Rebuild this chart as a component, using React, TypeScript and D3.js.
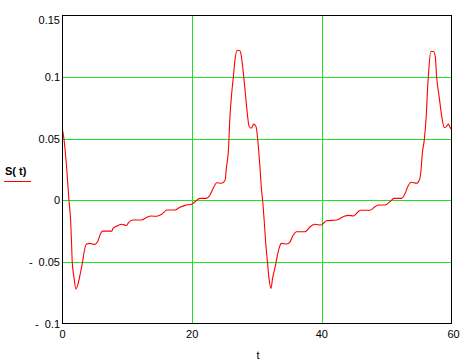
import React, { useEffect, useRef } from "react";
import * as d3 from "d3";

const tValues = [
  0, 0.22, 0.63, 1.0, 1.25, 1.4, 1.5, 1.76, 2.07, 2.42, 2.8, 3.1, 3.3, 3.7, 4.2, 5.0, 5.4, 5.9, 6.2, 7.6,
  7.8, 8.6, 9.1, 9.9, 10.1, 10.8, 12.2, 13.0, 13.75, 14.5, 15.3, 16.1, 17.35, 18.1, 18.9, 20.0, 20.4, 21.2,
  22.2, 22.75, 23.25, 23.8, 24.55, 25.06, 25.3, 25.6, 25.8, 26.1, 26.35, 26.6, 26.96, 27.3, 27.5, 27.9,
  28.15, 28.5, 28.76, 29.1, 29.5, 29.85, 30.1, 30.45, 30.7, 30.87, 31.1, 31.35, 31.6, 31.85, 32.16, 32.4,
  32.8, 33.1, 33.4, 33.8, 34.6, 35.1, 35.6, 36.1, 37.4, 38.2, 38.9, 39.9, 40.7, 42.3, 43.3, 44.1, 44.9,
  45.6, 46.0, 47.4, 48.2, 48.7, 49.8, 50.5, 51.15, 52.3, 52.85, 53.25, 53.8, 54.6, 55.05, 55.3, 55.5, 55.8,
  56.1, 56.3, 56.5, 56.8, 57.2, 57.5, 57.7, 58.1, 58.5, 58.9, 59.2, 59.5, 59.8, 60,
];
const sValues = [
  0.057, 0.05, 0.027, 0.0, -0.016, -0.035, -0.05, -0.062, -0.072, -0.0675, -0.058, -0.05, -0.043, -0.0355,
  -0.035, -0.0358, -0.0337, -0.0268, -0.025, -0.025, -0.0228, -0.0204, -0.0195, -0.0204, -0.0187, -0.016,
  -0.016, -0.0138, -0.0128, -0.013, -0.0114, -0.0079, -0.0079, -0.0057, -0.0041, -0.003, -0.0014, 0.0016,
  0.0016, 0.0043, 0.0098, 0.0143, 0.0138, 0.016, 0.0273, 0.041, 0.0653, 0.087, 0.1, 0.114, 0.1216, 0.1216,
  0.1195, 0.103, 0.0897, 0.0707, 0.0604, 0.0585, 0.0618, 0.0598, 0.05, 0.0273, 0.0084, 0.0, -0.016, -0.035,
  -0.0494, -0.0634, -0.0715, -0.0634, -0.054, -0.046, -0.039, -0.035, -0.0355, -0.0337, -0.0282, -0.0255,
  -0.0255, -0.0215, -0.0195, -0.0201, -0.0166, -0.016, -0.0133, -0.0122, -0.0127, -0.0093, -0.0081, -0.0081,
  -0.0052, -0.0038, -0.0038, -0.0011, 0.0016, 0.0016, 0.0057, 0.011, 0.0146, 0.0138, 0.0165, 0.0246, 0.038,
  0.049, 0.068, 0.0897, 0.106, 0.1208, 0.1208, 0.1167, 0.1005, 0.084, 0.068, 0.059, 0.0598, 0.0618, 0.059,
  0.0577,
];

const yTicks = [-0.1, -0.05, 0, 0.05, 0.1, 0.15];
const yTickLabels = ["0.1", "0.05", "0", "0.05", "0.1", "0.15"];
const xTicks = [0, 20, 40, 60];
const xTickLabels = ["0", "20", "40", "60"];
const yGrid = [-0.05, 0, 0.05, 0.1];
const xGrid = [20, 40];
const xLabel = "t";
const yLabel = "S( t)";

const W = 467;
const H = 364;
const L = 62.5;
const R = 451.5;
const T = 15.5;
const B = 323.5;
const FONT = "Liberation Sans, Arial, sans-serif";

export default function App() {
  const ref = useRef<SVGSVGElement>(null);
  useEffect(() => {
    const svg = d3.select(ref.current);
    svg.selectAll("*").remove();
    const x = d3.scaleLinear().domain([0, 60]).range([L, R]);
    const y = d3.scaleLinear().domain([-0.1, 0.15]).range([B, T]);
    const grid = "#22e022";

    svg.append("rect").attr("width", W).attr("height", H).attr("fill", "white");

    const g = svg.append("g");
    g.selectAll("line.hg")
      .data(yGrid)
      .join("line")
      .attr("x1", L).attr("x2", R)
      .attr("y1", (d) => Math.round(y(d)) + 0.5)
      .attr("y2", (d) => Math.round(y(d)) + 0.5)
      .attr("stroke", grid).attr("stroke-width", 1).attr("shape-rendering", "crispEdges");
    g.selectAll("line.vg")
      .data(xGrid)
      .join("line")
      .attr("y1", T).attr("y2", B)
      .attr("x1", (d) => Math.round(x(d)) + 0.5)
      .attr("x2", (d) => Math.round(x(d)) + 0.5)
      .attr("stroke", grid).attr("stroke-width", 1).attr("shape-rendering", "crispEdges");

    const pts = tValues.map((t, i) => [t, sValues[i]] as [number, number]);
    const line = d3.line<[number, number]>()
      .x((d) => x(d[0]))
      .y((d) => y(d[1]))
      .curve(d3.curveMonotoneX);
    svg.append("path")
      .attr("d", line(pts))
      .attr("fill", "none")
      .attr("stroke", "#ff0000")
      .attr("stroke-width", 1.1);

    svg.append("rect")
      .attr("x", L).attr("y", T).attr("width", R - L).attr("height", B - T)
      .attr("fill", "none").attr("stroke", "black").attr("stroke-width", 1)
      .attr("shape-rendering", "crispEdges");

    // y tick labels
    yTicks.forEach((v, i) => {
      const ty = Math.min(Math.max(y(v), T + 4), B);
      const txt = svg.append("text")
        .attr("x", 60)
        .attr("y", ty + 4)
        .attr("text-anchor", "end")
        .attr("font-family", FONT)
        .attr("font-size", 11)
        .attr("fill", "black")
        .text(yTickLabels[i]);
      if (v < 0) {
        const w = (txt.node() as SVGTextElement).getComputedTextLength();
        svg.append("text")
          .attr("x", 60 - w - 6)
          .attr("y", ty + 4)
          .attr("text-anchor", "end")
          .attr("font-family", FONT)
          .attr("font-size", 11)
          .attr("fill", "black")
          .text("-");
      }
    });

    xTicks.forEach((v, i) => {
      svg.append("text")
        .attr("x", x(v) + (i === xTicks.length - 1 ? 2 : 0))
        .attr("y", 338)
        .attr("text-anchor", "middle")
        .attr("font-family", FONT)
        .attr("font-size", 11)
        .attr("fill", "black")
        .text(xTickLabels[i]);
    });

    svg.append("text")
      .attr("x", 258).attr("y", 359)
      .attr("text-anchor", "middle")
      .attr("font-family", FONT).attr("font-size", 11).attr("fill", "black")
      .text(xLabel);

    svg.append("text")
      .attr("x", 5).attr("y", 175)
      .attr("font-family", FONT).attr("font-size", 11).attr("fill", "black")
      .attr("font-weight", "bold")
      .style("white-space", "pre")
      .text(yLabel);
    svg.append("line")
      .attr("x1", 4).attr("x2", 31)
      .attr("y1", 181.5).attr("y2", 181.5)
      .attr("stroke", "#ff0000").attr("stroke-width", 1)
      .attr("shape-rendering", "crispEdges");
  }, []);

  return (
    <svg
      ref={ref}
      width={W}
      height={H}
      style={{ position: "absolute", left: 0, top: 0, display: "block" }}
    />
  );
}
